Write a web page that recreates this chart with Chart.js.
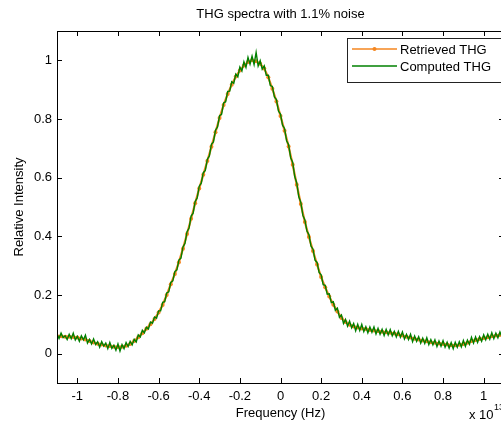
<!DOCTYPE html>
<html>
<head>
<meta charset="utf-8">
<script src="https://cdn.jsdelivr.net/npm/chart.js@4"></script>
<style>
  html, body { margin: 0; padding: 0; overflow: hidden; background: #fff; }
  canvas { display: block; }
</style>
</head>
<body>
<canvas id="thgChart" width="512" height="429"></canvas>
<script>
// frequency axis in units of 1e13 Hz
const retrievedFreq = [
  -1.10, -1.08, -1.06, -1.04, -1.02, -1.00, -0.98, -0.96, -0.94, -0.92,
  -0.90, -0.88, -0.86, -0.84, -0.82, -0.80, -0.78, -0.76, -0.74, -0.72,
  -0.70, -0.68, -0.66, -0.64, -0.62, -0.60, -0.58, -0.56, -0.54, -0.52,
  -0.50, -0.48, -0.46, -0.44, -0.42, -0.40, -0.38, -0.36, -0.34, -0.32,
  -0.30, -0.28, -0.26, -0.24, -0.22, -0.20, -0.18, -0.16, -0.14, -0.12,
  -0.10, -0.08, -0.06, -0.04, -0.02, 0.00, 0.02, 0.04, 0.06, 0.08,
  0.10, 0.12, 0.14, 0.16, 0.18, 0.20, 0.22, 0.24, 0.26, 0.28,
  0.30, 0.32, 0.34, 0.36, 0.38, 0.40, 0.42, 0.44, 0.46, 0.48,
  0.50, 0.52, 0.54, 0.56, 0.58, 0.60, 0.62, 0.64, 0.66, 0.68,
  0.70, 0.72, 0.74, 0.76, 0.78, 0.80, 0.82, 0.84, 0.86, 0.88,
  0.90, 0.92, 0.94, 0.96, 0.98, 1.00, 1.02, 1.04, 1.06, 1.08, 1.10
];
const retrievedTHG = [
  0.060, 0.059, 0.058, 0.058, 0.057, 0.055, 0.052, 0.048, 0.043, 0.038,
  0.034, 0.031, 0.028, 0.026, 0.024, 0.023, 0.024, 0.027, 0.033, 0.043,
  0.056, 0.070, 0.085, 0.100, 0.118, 0.140, 0.166, 0.200, 0.237, 0.272,
  0.312, 0.358, 0.408, 0.460, 0.513, 0.563, 0.610, 0.657, 0.705, 0.755,
  0.803, 0.848, 0.885, 0.917, 0.945, 0.965, 0.982, 0.994, 1.000, 0.997,
  0.988, 0.972, 0.942, 0.903, 0.860, 0.810, 0.760, 0.706, 0.644, 0.576,
  0.510, 0.449, 0.398, 0.350, 0.304, 0.261, 0.226, 0.195, 0.167, 0.144,
  0.122, 0.108, 0.099, 0.093, 0.089, 0.086, 0.084, 0.081, 0.079, 0.077,
  0.075, 0.073, 0.071, 0.069, 0.066, 0.062, 0.058, 0.055, 0.051, 0.048,
  0.045, 0.042, 0.039, 0.037, 0.035, 0.033, 0.031, 0.029, 0.029, 0.030,
  0.033, 0.037, 0.043, 0.047, 0.050, 0.053, 0.056, 0.059, 0.062, 0.064, 0.066
];

const computedFreq = [
  -1.10, -1.09, -1.08, -1.07, -1.06, -1.05, -1.04, -1.03, -1.02, -1.01,
  -1.00, -0.99, -0.98, -0.97, -0.96, -0.95, -0.94, -0.93, -0.92, -0.91,
  -0.90, -0.89, -0.88, -0.87, -0.86, -0.85, -0.84, -0.83, -0.82, -0.81,
  -0.80, -0.79, -0.78, -0.77, -0.76, -0.75, -0.74, -0.73, -0.72, -0.71,
  -0.70, -0.69, -0.68, -0.67, -0.66, -0.65, -0.64, -0.63, -0.62, -0.61,
  -0.60, -0.59, -0.58, -0.57, -0.56, -0.55, -0.54, -0.53, -0.52, -0.51,
  -0.50, -0.49, -0.48, -0.47, -0.46, -0.45, -0.44, -0.43, -0.42, -0.41,
  -0.40, -0.39, -0.38, -0.37, -0.36, -0.35, -0.34, -0.33, -0.32, -0.31,
  -0.30, -0.29, -0.28, -0.27, -0.26, -0.25, -0.24, -0.23, -0.22, -0.21,
  -0.20, -0.19, -0.18, -0.17, -0.16, -0.15, -0.14, -0.13, -0.12, -0.11,
  -0.10, -0.09, -0.08, -0.07, -0.06, -0.05, -0.04, -0.03, -0.02, -0.01,
  0.00, 0.01, 0.02, 0.03, 0.04, 0.05, 0.06, 0.07, 0.08, 0.09,
  0.10, 0.11, 0.12, 0.13, 0.14, 0.15, 0.16, 0.17, 0.18, 0.19,
  0.20, 0.21, 0.22, 0.23, 0.24, 0.25, 0.26, 0.27, 0.28, 0.29,
  0.30, 0.31, 0.32, 0.33, 0.34, 0.35, 0.36, 0.37, 0.38, 0.39,
  0.40, 0.41, 0.42, 0.43, 0.44, 0.45, 0.46, 0.47, 0.48, 0.49,
  0.50, 0.51, 0.52, 0.53, 0.54, 0.55, 0.56, 0.57, 0.58, 0.59,
  0.60, 0.61, 0.62, 0.63, 0.64, 0.65, 0.66, 0.67, 0.68, 0.69,
  0.70, 0.71, 0.72, 0.73, 0.74, 0.75, 0.76, 0.77, 0.78, 0.79,
  0.80, 0.81, 0.82, 0.83, 0.84, 0.85, 0.86, 0.87, 0.88, 0.89,
  0.90, 0.91, 0.92, 0.93, 0.94, 0.95, 0.96, 0.97, 0.98, 0.99,
  1.00, 1.01, 1.02, 1.03, 1.04, 1.05, 1.06, 1.07, 1.08, 1.09, 1.10
];
const computedTHG = [
  0.066, 0.052, 0.070, 0.055, 0.061, 0.048, 0.066, 0.051, 0.070, 0.047,
  0.059, 0.042, 0.061, 0.047, 0.063, 0.036, 0.049, 0.033, 0.050, 0.031,
  0.041, 0.022, 0.041, 0.026, 0.036, 0.017, 0.038, 0.018, 0.029, 0.012,
  0.033, 0.009, 0.031, 0.017, 0.038, 0.024, 0.042, 0.030, 0.049, 0.040,
  0.064, 0.057, 0.080, 0.071, 0.090, 0.084, 0.108, 0.104, 0.125, 0.121,
  0.146, 0.146, 0.175, 0.177, 0.207, 0.211, 0.243, 0.248, 0.280, 0.286,
  0.319, 0.326, 0.364, 0.376, 0.416, 0.428, 0.469, 0.479, 0.519, 0.531,
  0.571, 0.581, 0.617, 0.625, 0.663, 0.674, 0.714, 0.722, 0.762, 0.773,
  0.811, 0.816, 0.855, 0.859, 0.894, 0.895, 0.927, 0.922, 0.953, 0.944,
  0.977, 0.964, 0.995, 0.976, 1.010, 0.987, 1.014, 0.986, 1.027, 0.981,
  0.999, 0.970, 0.981, 0.949, 0.949, 0.914, 0.911, 0.875, 0.866, 0.827,
  0.817, 0.779, 0.768, 0.726, 0.712, 0.668, 0.653, 0.604, 0.582, 0.535,
  0.516, 0.472, 0.456, 0.418, 0.406, 0.367, 0.356, 0.319, 0.311, 0.277,
  0.269, 0.235, 0.233, 0.203, 0.204, 0.174, 0.177, 0.148, 0.155, 0.124,
  0.132, 0.103, 0.117, 0.094, 0.111, 0.088, 0.103, 0.078, 0.100, 0.079,
  0.100, 0.075, 0.092, 0.071, 0.091, 0.073, 0.091, 0.067, 0.086, 0.066,
  0.083, 0.062, 0.083, 0.064, 0.082, 0.061, 0.076, 0.057, 0.076, 0.056,
  0.074, 0.050, 0.066, 0.048, 0.066, 0.041, 0.060, 0.042, 0.058, 0.036,
  0.053, 0.035, 0.054, 0.031, 0.048, 0.030, 0.047, 0.024, 0.043, 0.025,
  0.044, 0.022, 0.039, 0.019, 0.038, 0.017, 0.039, 0.022, 0.041, 0.023,
  0.045, 0.025, 0.046, 0.032, 0.056, 0.036, 0.057, 0.038, 0.058, 0.042,
  0.064, 0.047, 0.066, 0.049, 0.071, 0.051, 0.070, 0.054, 0.074, 0.057, 0.073
];

const xTicks = [-1, -0.8, -0.6, -0.4, -0.2, 0, 0.2, 0.4, 0.6, 0.8, 1];
const yTicks = [0, 0.2, 0.4, 0.6, 0.8, 1];

const orange = "#f5861f";
const green = "#008000";
const fontFamily = "'Liberation Sans', Arial, sans-serif";

Chart.defaults.font.family = fontFamily;
Chart.defaults.font.size = 13;
Chart.defaults.color = "#000";

// MATLAB style box, inward ticks, legend and exponent label
const matlabFrame = {
  id: "matlabFrame",
  afterDraw(chart) {
    const { ctx, chartArea: a, scales: { x, y } } = chart;
    ctx.save();
    ctx.strokeStyle = "#000";
    ctx.lineWidth = 1;
    ctx.strokeRect(a.left + 0.5, a.top + 0.5, a.right - a.left, a.bottom - a.top);
    ctx.beginPath();
    xTicks.forEach(v => {
      const px = Math.round(x.getPixelForValue(v)) + 0.5;
      ctx.moveTo(px, a.bottom); ctx.lineTo(px, a.bottom - 5);
      ctx.moveTo(px, a.top); ctx.lineTo(px, a.top + 5);
    });
    yTicks.forEach(v => {
      const py = Math.round(y.getPixelForValue(v)) + 0.5;
      ctx.moveTo(a.left, py); ctx.lineTo(a.left + 5, py);
      ctx.moveTo(a.right, py); ctx.lineTo(a.right - 5, py);
    });
    ctx.stroke();

    // legend box
    const lx = 347, ly = 38, lw = 155, lh = 44;
    ctx.fillStyle = "#fff";
    ctx.fillRect(lx, ly, lw, lh);
    ctx.strokeStyle = "#222";
    ctx.strokeRect(lx + 0.5, ly + 0.5, lw, lh);
    const rows = [
      { label: chart.data.datasets[0].label, color: orange, y: 49, dot: true },
      { label: chart.data.datasets[1].label, color: green, y: 66, dot: false }
    ];
    ctx.font = "13px " + fontFamily;
    ctx.textBaseline = "middle";
    ctx.textAlign = "left";
    rows.forEach(r => {
      ctx.strokeStyle = r.color;
      ctx.lineWidth = 1.5;
      ctx.beginPath();
      ctx.moveTo(352, r.y); ctx.lineTo(397, r.y);
      ctx.stroke();
      if (r.dot) {
        ctx.fillStyle = r.color;
        ctx.beginPath();
        ctx.arc(374.5, r.y, 2, 0, Math.PI * 2);
        ctx.fill();
      }
      ctx.fillStyle = "#000";
      ctx.fillText(r.label, 400, r.y + 1);
    });

    // exponent of x axis
    ctx.fillStyle = "#000";
    ctx.font = "13px " + fontFamily;
    ctx.fillText("x 10", 469, 415);
    ctx.font = "9px " + fontFamily;
    ctx.fillText("13", 494, 408);
    ctx.restore();
  }
};

new Chart(document.getElementById("thgChart"), {
  type: "line",
  data: {
    datasets: [
      {
        label: "Retrieved THG",
        data: retrievedFreq.map((f, i) => ({ x: f, y: retrievedTHG[i] })),
        borderColor: orange,
        backgroundColor: orange,
        borderWidth: 2.2,
        pointRadius: 2,
        pointBorderWidth: 0,
        pointBackgroundColor: orange,
        order: 2
      },
      {
        label: "Computed THG",
        data: computedFreq.map((f, i) => ({ x: f, y: computedTHG[i] })),
        borderColor: green,
        borderWidth: 1.4,
        pointRadius: 0,
        order: 1
      }
    ]
  },
  options: {
    responsive: false,
    animation: false,
    layout: { padding: { left: 0, right: 8, top: 0, bottom: 0 } },
    plugins: {
      legend: { display: false },
      tooltip: { enabled: false },
      title: {
        display: true,
        text: "THG spectra with 1.1% noise",
        fullSize: false,
        font: { size: 13, weight: "normal" },
        color: "#000",
        padding: { top: 7, bottom: 8.4 }
      }
    },
    scales: {
      x: {
        type: "linear",
        min: -1.1,
        max: 1.1,
        afterBuildTicks: s => { s.ticks = xTicks.map(v => ({ value: v })); },
        afterFit: s => { s.height = 46; },
        grid: { display: false, drawTicks: false },
        border: { display: false },
        ticks: { autoSkip: false, maxRotation: 0, padding: 6, color: "#000", callback: v => String(v) },
        title: { display: true, text: "Frequency (Hz)", color: "#000", padding: { top: 0, bottom: 8 } }
      },
      y: {
        min: -0.1,
        max: 1.1,
        afterBuildTicks: s => { s.ticks = yTicks.map(v => ({ value: v })); },
        afterFit: s => { s.width = 57; },
        grid: { display: false, drawTicks: false },
        border: { display: false },
        ticks: { padding: 5, color: "#000", callback: v => String(v) },
        title: { display: true, text: "Relative Intensity", color: "#000", padding: { top: 12, bottom: 0 } }
      }
    }
  },
  plugins: [matlabFrame]
});
</script>
</body>
</html>
